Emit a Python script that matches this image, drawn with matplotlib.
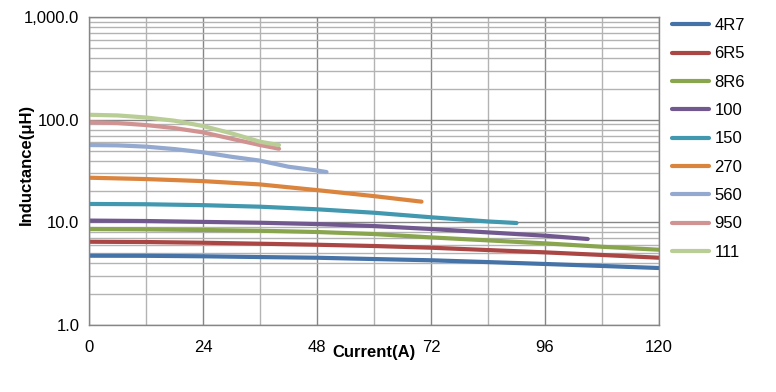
import matplotlib
matplotlib.use("Agg")
import matplotlib.pyplot as plt
from matplotlib.ticker import FixedLocator, LogLocator, NullFormatter

plt.rcParams['font.family'] = ['Liberation Sans', 'DejaVu Sans']

names = ["4R7", "6R5", "8R6", "100", "150", "270", "560", "950", "111"]
colors = ["#4572A7", "#AA4643", "#89A54E", "#71588F", "#4198AF",
          "#DB843D", "#93A9CF", "#D19392", "#B9CD96"]

x_4r7 = [0, 12, 24, 36, 48, 60, 72, 84, 96, 108, 120]
y_4r7 = [4.73, 4.72, 4.67, 4.59, 4.52, 4.39, 4.27, 4.10, 3.93, 3.76, 3.59]
x_6r5 = [0, 12, 24, 36, 48, 60, 72, 84, 96, 108, 120]
y_6r5 = [6.47, 6.43, 6.33, 6.19, 6.05, 5.88, 5.66, 5.37, 5.10, 4.81, 4.52]
x_8r6 = [0, 12, 24, 36, 48, 60, 72, 84, 96, 108, 120]
y_8r6 = [8.61, 8.55, 8.42, 8.28, 8.05, 7.69, 7.13, 6.67, 6.24, 5.78, 5.41]
x_100 = [0, 12, 24, 36, 48, 60, 72, 84, 96, 105]
y_100 = [10.4, 10.3, 10.1, 9.91, 9.62, 9.20, 8.61, 7.98, 7.41, 6.88]
x_150 = [0, 12, 24, 36, 48, 60, 72, 84, 90]
y_150 = [15.1, 15.0, 14.7, 14.2, 13.4, 12.4, 11.2, 10.2, 9.85]
x_270 = [0, 12, 24, 36, 48, 60, 70]
y_270 = [27.2, 26.4, 25.2, 23.4, 20.6, 18.0, 15.9]
x_560 = [0, 6, 12, 18, 24, 30, 36, 42, 48, 50]
y_560 = [56.6, 56.2, 54.6, 51.7, 48.1, 43.5, 39.9, 34.8, 32.0, 30.9]
x_950 = [0, 6, 12, 18, 24, 30, 36, 40]
y_950 = [94.2, 92.7, 88.6, 82.8, 75.2, 65.2, 56.6, 52.1]
x_111 = [0, 6, 12, 18, 24, 30, 36, 40]
y_111 = [111.6, 110.0, 105.0, 97.7, 86.7, 73.6, 61.0, 56.6]

series = [(x_4r7, y_4r7), (x_6r5, y_6r5), (x_8r6, y_8r6), (x_100, y_100),
          (x_150, y_150), (x_270, y_270), (x_560, y_560), (x_950, y_950),
          (x_111, y_111)]

x_ticks = [0, 24, 48, 72, 96, 120]
y_ticks = [1, 10, 100, 1000]
y_ticklabels = ["1.0", "10.0", "100.0", "1,000.0"]

fig = plt.figure(figsize=(7.76, 3.92), dpi=100)
ax = fig.add_axes([89/776, 1-325/392, (659-89)/776, (325-17)/392])

for (xs, ys), name, c in zip(series, names, colors):
    ax.plot(xs, ys, color=c, lw=3, label=name, solid_capstyle='round',
            solid_joinstyle='round')

ax.set_yscale('log')
ax.set_ylim(1, 1000)
ax.set_xlim(0, 120)
ax.xaxis.set_major_locator(FixedLocator(x_ticks))
ax.xaxis.set_minor_locator(FixedLocator(list(range(12, 120, 24))))
ax.set_xticklabels([str(v) for v in x_ticks])
ax.yaxis.set_major_locator(FixedLocator(y_ticks))
ax.set_yticklabels(y_ticklabels)
ax.yaxis.set_minor_locator(LogLocator(base=10, subs=range(2, 10)))
ax.yaxis.set_minor_formatter(NullFormatter())

ax.grid(True, which='major', color='#868686', lw=1)
ax.grid(True, which='minor', color='#b3b3b3', lw=1)
ax.set_axisbelow(True)
ax.tick_params(which='both', length=0, labelsize=12, colors='black')
ax.tick_params(axis='x', pad=10.5)
ax.tick_params(axis='y', pad=7)
for s in ax.spines.values():
    s.set_color('#868686')
    s.set_linewidth(1)

ax.set_xlabel("Current(A)", fontsize=12, fontweight='bold')
ax.xaxis.set_label_coords(0.5, -0.065)
ax.set_ylabel("Inductance(μH)", fontsize=12, fontweight='bold')
ax.yaxis.set_label_coords(-0.096, 0.52)

fig.legend(loc='upper left', bbox_to_anchor=(672/776, 1-18/392), frameon=False,
           fontsize=12, handlelength=2.2, handletextpad=0.35, labelspacing=0.8,
           borderpad=0, borderaxespad=0)

fig.savefig("out.png", dpi=100)
